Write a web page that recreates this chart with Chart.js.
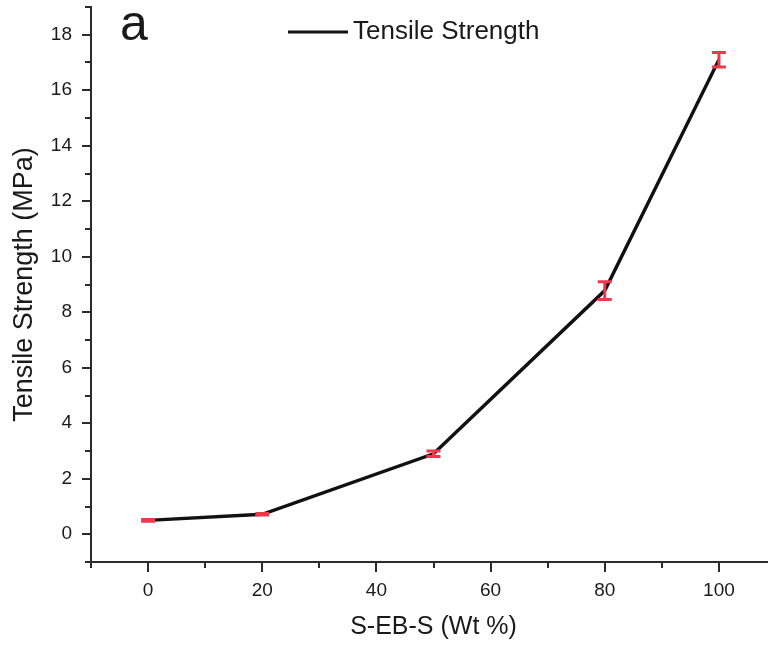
<!DOCTYPE html>
<html>
<head>
<meta charset="utf-8">
<script src="https://cdn.jsdelivr.net/npm/chart.js@4/dist/chart.umd.min.js"></script>
<style>
  html, body { margin: 0; padding: 0; background: #ffffff; overflow: hidden; }
  #wrap { width: 768px; height: 648px; overflow: hidden; position: relative; }
  canvas { display: block; }
</style>
</head>
<body>
<div id="wrap"><canvas id="c" width="776" height="648"></canvas></div>
<script>
// ---- data ----
const panelLabel = 'a';
const seriesLabel = 'Tensile Strength';
const xTitle = 'S-EB-S (Wt %)';
const yTitle = 'Tensile Strength (MPa)';
const sebsContent = [0, 20, 50, 80, 100];
const tensileStrength = [0.5, 0.72, 2.9, 8.78, 17.1];
const strengthError = [0.03, 0.03, 0.1, 0.32, 0.26];
const xMajorTicks = [0, 20, 40, 60, 80, 100];
const yMajorTicks = [0, 2, 4, 6, 8, 10, 12, 14, 16, 18];

const FONT = "'Liberation Sans', Arial, Helvetica, sans-serif";
const AXIS_COLOR = '#2b2b2b';
const TEXT_COLOR = '#1a1a1a';
const ERR_COLOR = '#f0384c';

const tickMarks = {
  id: 'tickMarks',
  afterDraw(chart) {
    const { ctx, chartArea, scales: { x, y } } = chart;
    ctx.save();
    ctx.strokeStyle = AXIS_COLOR;
    ctx.lineWidth = 2;
    ctx.beginPath();
    x.ticks.forEach(t => {
      const px = Math.round(x.getPixelForValue(t.value));
      const len = xMajorTicks.includes(t.value) ? 10 : 6;
      ctx.moveTo(px, chartArea.bottom);
      ctx.lineTo(px, chartArea.bottom + len);
    });
    y.ticks.forEach(t => {
      const py = Math.round(y.getPixelForValue(t.value));
      const len = yMajorTicks.includes(t.value) ? 9 : 6;
      ctx.moveTo(chartArea.left, py);
      ctx.lineTo(chartArea.left - len, py);
    });
    ctx.stroke();
    ctx.restore();
  }
};

const errorBars = {
  id: 'errorBars',
  afterDatasetsDraw(chart) {
    const { ctx, scales: { x, y } } = chart;
    ctx.save();
    ctx.strokeStyle = ERR_COLOR;
    ctx.lineWidth = 3;
    const cap = 7;
    sebsContent.forEach((xv, i) => {
      const px = x.getPixelForValue(xv);
      const top = y.getPixelForValue(tensileStrength[i] + strengthError[i]);
      const bot = y.getPixelForValue(tensileStrength[i] - strengthError[i]);
      ctx.beginPath();
      ctx.moveTo(px, top); ctx.lineTo(px, bot);
      ctx.moveTo(px - cap, top); ctx.lineTo(px + cap, top);
      ctx.moveTo(px - cap, bot); ctx.lineTo(px + cap, bot);
      ctx.stroke();
    });
    ctx.restore();
  }
};

const annotations = {
  id: 'annotations',
  afterDraw(chart) {
    const { ctx } = chart;
    const ds = chart.data.datasets[0];
    ctx.save();
    // panel letter
    ctx.fillStyle = TEXT_COLOR;
    ctx.font = '50px ' + FONT;
    ctx.textBaseline = 'alphabetic';
    ctx.textAlign = 'left';
    ctx.fillText(panelLabel, 120, 40);
    // legend
    ctx.strokeStyle = ds.borderColor;
    ctx.lineWidth = 3;
    ctx.beginPath();
    ctx.moveTo(288, 32);
    ctx.lineTo(348, 32);
    ctx.stroke();
    ctx.font = '26px ' + FONT;
    ctx.textBaseline = 'middle';
    ctx.fillText(ds.label, 353, 32);
    ctx.restore();
  }
};

const tickFont = { family: FONT, size: 19 };

function zeroPadding(s) {
  s.paddingTop = 0;
  s.paddingBottom = 0;
  s.paddingLeft = 0;
  s.paddingRight = 0;
}

new Chart(document.getElementById('c'), {
  type: 'line',
  data: {
    datasets: [{
      label: seriesLabel,
      data: sebsContent.map((v, i) => ({ x: v, y: tensileStrength[i] })),
      borderColor: '#111111',
      backgroundColor: '#111111',
      borderWidth: 3.4,
      pointRadius: 0,
      tension: 0,
      fill: false
    }]
  },
  options: {
    responsive: false,
    animation: false,
    layout: { padding: { top: 7, left: 0, right: 0, bottom: 0 } },
    plugins: {
      legend: { display: false },
      tooltip: { enabled: false }
    },
    scales: {
      x: {
        type: 'linear',
        min: -10,
        max: 110,
        grid: { display: false, drawTicks: false },
        border: { display: true, color: AXIS_COLOR, width: 2 },
        ticks: {
          stepSize: 10,
          autoSkip: false,
          maxRotation: 0,
          padding: 17,
          color: TEXT_COLOR,
          font: tickFont,
          callback: v => xMajorTicks.includes(v) ? String(v) : ''
        },
        title: {
          display: true,
          text: xTitle,
          color: TEXT_COLOR,
          font: { family: FONT, size: 25 },
          padding: { top: 0, bottom: 6 }
        },
        afterFit(s) { s.height = 86; zeroPadding(s); }
      },
      y: {
        type: 'linear',
        min: -1,
        max: 19,
        grid: { display: false, drawTicks: false },
        border: { display: true, color: AXIS_COLOR, width: 2 },
        ticks: {
          stepSize: 1,
          autoSkip: false,
          padding: 19,
          color: TEXT_COLOR,
          font: tickFont,
          callback: v => yMajorTicks.includes(v) ? String(v) : ''
        },
        title: {
          display: true,
          text: yTitle,
          color: TEXT_COLOR,
          font: { family: FONT, size: 27 },
          padding: { top: 8, bottom: 0 }
        },
        afterFit(s) { s.width = 91; zeroPadding(s); }
      }
    }
  },
  plugins: [errorBars, tickMarks, annotations]
});
</script>
</body>
</html>
